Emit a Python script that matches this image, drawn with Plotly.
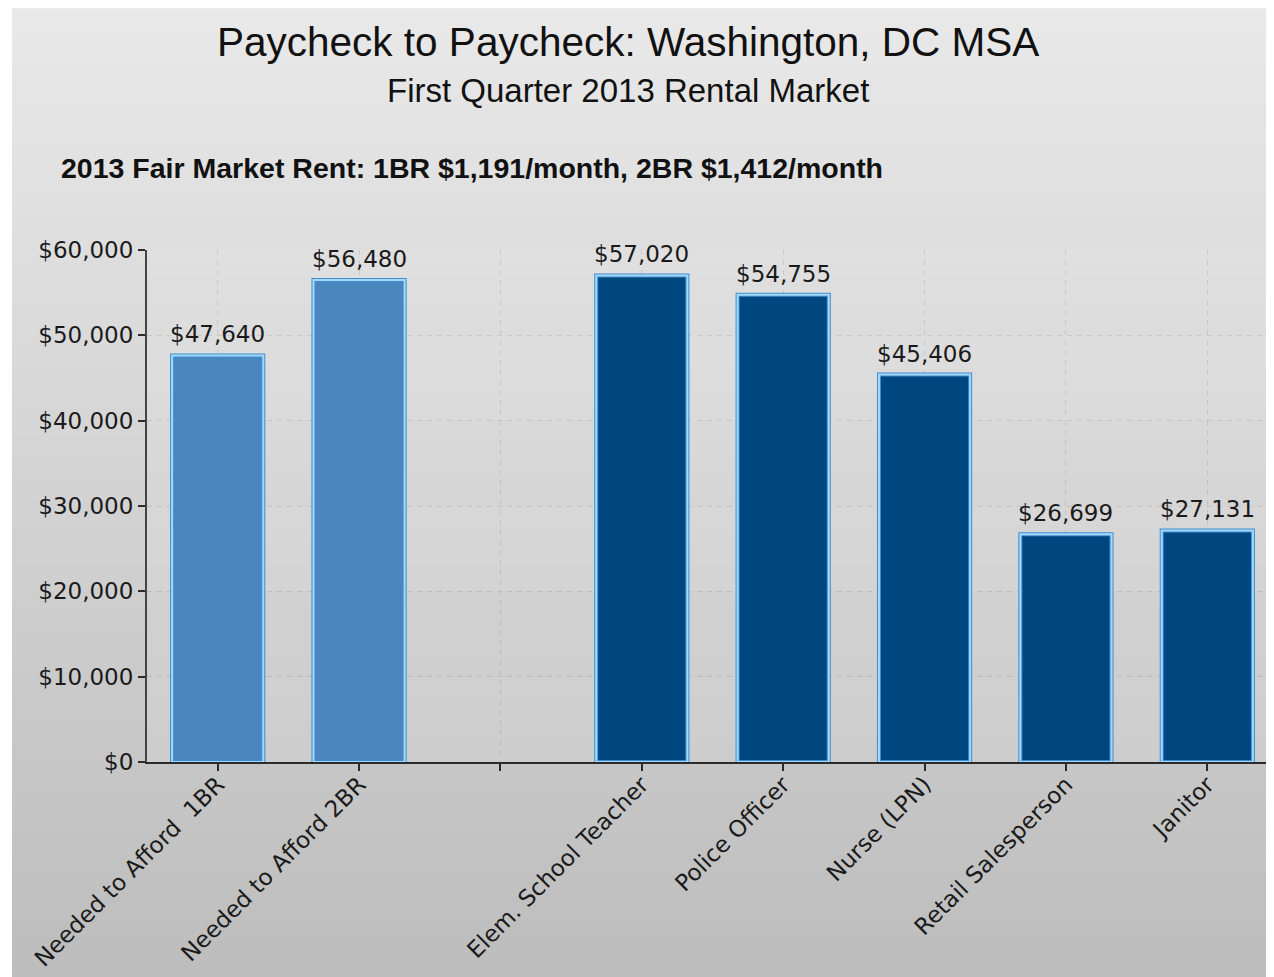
import plotly.graph_objects as go

# ---- data ----
categories = ["Needed to Afford\u00a0 1BR", "Needed to Afford 2BR", "",
              "Elem. School Teacher", "Police Officer", "Nurse (LPN)",
              "Retail Salesperson", "Janitor"]
bar_positions = [0, 1, 3, 4, 5, 6, 7]
bar_values = [47640, 56480, 57020, 54755, 45406, 26699, 27131]
bar_colors = ["#4a86bd", "#4a86bd", "#00467f", "#00467f", "#00467f", "#00467f", "#00467f"]
y_ticks = [0, 10000, 20000, 30000, 40000, 50000, 60000]
y_tick_labels = ["$0", "$10,000", "$20,000", "$30,000", "$40,000", "$50,000", "$60,000"]

title = "Paycheck to Paycheck: Washington, DC MSA"
subtitle = "First Quarter 2013 Rental Market"
note = "2013 Fair Market Rent: 1BR $1,191/month, 2BR $1,412/month"

# page offset (default body margin) in the screenshot
OFF = 8
W, H = 1274, 977
# target screen positions of the plot area
SL, ST, SB, SR = 147, 250, 762, 1278
L = SL - OFF
T = ST - OFF
B = H - (SB - OFF)
R = W - (SR - OFF)
PW, PH = W - L - R, H - T - B


def px_x(p):  # screen pixel -> paper x
    return (p - OFF - L) / PW


def px_y(p):  # screen pixel -> paper y
    return (H - B - (p - OFF)) / PH


fig = go.Figure()

# outer bar border (blue) + fill
fig.add_trace(go.Bar(
    x=bar_positions, y=bar_values, width=0.645,
    marker=dict(color=bar_colors, line=dict(color="#3c8ed4", width=4)),
    showlegend=False, hoverinfo="skip",
))
# inner light-blue border
fig.add_trace(go.Bar(
    x=bar_positions, y=bar_values, width=0.645,
    marker=dict(color="rgba(0,0,0,0)", line=dict(color="#a6d8f7", width=2)),
    showlegend=False, hoverinfo="skip",
))

# background gradient (each band runs to the bottom so no seams show)
shapes = []
x0, x1 = px_x(12), px_x(W + OFF + 10)
top_px, bot_px = 5, H + OFF + 10
n = 120
for i in range(n):
    a = top_px + (bot_px - top_px) * i / n
    t = (i + 0.5) / n
    c = int(round(233 - 45 * t))
    shapes.append(dict(type="rect", xref="paper", yref="paper",
                       x0=x0, x1=x1, y0=px_y(bot_px), y1=px_y(a),
                       fillcolor=f"rgb({c},{c},{c})", line=dict(width=0), layer="below"))
# plot area lighter overlay + subtle bands
shapes.append(dict(type="rect", xref="paper", yref="paper", x0=0, x1=1, y0=0, y1=1,
                   fillcolor="rgba(255,255,255,0.08)", line=dict(width=0), layer="below"))
for lo, hi in [(0, 10000), (20000, 30000), (40000, 50000)]:
    shapes.append(dict(type="rect", xref="paper", yref="y", x0=0, x1=1, y0=lo, y1=hi,
                       fillcolor="rgba(255,255,255,0.05)", line=dict(width=0), layer="below"))

annotations = [
    dict(text=title, x=px_x(628), y=px_y(42), xref="paper", yref="paper",
         xanchor="center", yanchor="middle", showarrow=False,
         font=dict(family="Liberation Sans, Arial", size=40.5, color="#111")),
    dict(text=subtitle, x=px_x(628), y=px_y(90), xref="paper", yref="paper",
         xanchor="center", yanchor="middle", showarrow=False,
         font=dict(family="Liberation Sans, Arial", size=33, color="#111")),
    dict(text=f"<b>{note}</b>", x=px_x(59), y=px_y(168), xref="paper", yref="paper",
         xanchor="left", yanchor="middle", showarrow=False,
         font=dict(family="Liberation Sans, Arial", size=28.5, color="#111")),
]
# value labels above the bars
for xp, v in zip(bar_positions, bar_values):
    annotations.append(dict(
        text=f"${v:,}", x=xp, y=v, xref="x", yref="y",
        xanchor="center", yanchor="bottom", yshift=6, showarrow=False,
        font=dict(family="DejaVu Sans", size=23, color="#1a1a1a")))

fig.update_layout(
    width=W, height=H,
    margin=dict(l=L, r=R, t=T, b=B, pad=0),
    paper_bgcolor="white", plot_bgcolor="rgba(0,0,0,0)",
    barmode="overlay",
    shapes=shapes, annotations=annotations,
    font=dict(family="DejaVu Sans", color="#1a1a1a"),
)
fig.update_xaxes(
    range=[-0.5, 7.5], tickvals=list(range(8)), ticktext=categories,
    tickangle=-45, tickfont=dict(family="DejaVu Sans", size=23, color="#1a1a1a"),
    ticklabelstandoff=-9,
    showline=True, linecolor="#2b2b2b", linewidth=2,
    ticks="outside", ticklen=7, tickcolor="#2b2b2b", tickwidth=2,
    showgrid=True, gridcolor="rgba(0,0,0,0.09)", griddash="5px,5px", gridwidth=1,
    zeroline=False, fixedrange=True,
)
fig.update_yaxes(
    range=[0, 60000], tickvals=y_ticks, ticktext=y_tick_labels,
    tickfont=dict(family="DejaVu Sans", size=23, color="#1a1a1a"),
    showline=True, linecolor="#444", linewidth=2,
    ticks="outside", ticklen=7, tickcolor="#2b2b2b", tickwidth=2,
    showgrid=True, gridcolor="rgba(0,0,0,0.09)", griddash="5px,5px", gridwidth=1,
    zeroline=False, fixedrange=True,
)

fig.write_html("out.html")
